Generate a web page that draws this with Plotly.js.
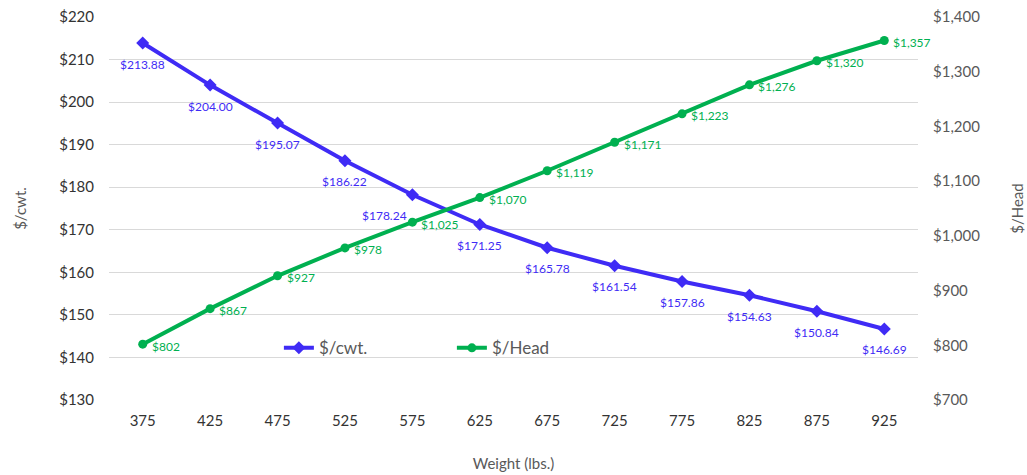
<!DOCTYPE html>
<html><head><meta charset="utf-8">
<script src="https://cdn.plot.ly/plotly-3.0.1.min.js"></script>
<style>body{margin:0;background:#fff}#c{width:1027px;height:475px}</style>
</head><body><div id="c"></div>
<script>
const weights = ['375','425','475','525','575','625','675','725','775','825','875','925'];
const cwt = [213.88,204.00,195.07,186.22,178.24,171.25,165.78,161.54,157.86,154.63,150.84,146.69];
const head = [802,867,927,978,1025,1070,1119,1171,1223,1276,1320,1357];
const leftTicks = [130,140,150,160,170,180,190,200,210,220];
const rightTicks = [700,800,900,1000,1100,1200,1300,1400];

const purple = '#3f2bf5', green = '#00b050';
const fam = 'Lato, "Open Sans", sans-serif';
const traces = [
 {x: weights, y: cwt, name: '$/cwt.', type:'scatter', mode:'lines+markers',
  line:{color:purple,width:4}, marker:{symbol:'diamond',size:10,color:purple}},
 {x: weights, y: head, name: '$/Head', type:'scatter', mode:'lines+markers', yaxis:'y2',
  line:{color:green,width:4}, marker:{symbol:'circle',size:9,color:green}}
];
// purple data labels below each point (the one at the crossing nudged left)
const cwtLabels = weights.map((w,i)=>({
  x: i, y: cwt[i], xref:'x', yref:'y', showarrow:false,
  text: '$'+cwt[i].toFixed(2), font:{color:purple,size:12,family:fam},
  yshift:-21, xshift: (w==='575' ? -28 : 0)
}));
// green data labels to the right of each point
const headLabels = weights.map((w,i)=>({
  x: i, y: head[i], xref:'x', yref:'y2', showarrow:false, xanchor:'left',
  text: '$'+head[i].toLocaleString('en-US'), font:{color:green,size:12,family:fam},
  xshift: 7, yshift:-2
}));
const layout = {
 width:1027, height:475, margin:{l:109,r:109,t:17,b:75},
 paper_bgcolor:'#fff', plot_bgcolor:'#fff',
 font:{family:fam},
 showlegend:true, annotations: cwtLabels.concat(headLabels),
 legend:{orientation:'h', x:0.21, y:0.135, xanchor:'left', yanchor:'middle',
   font:{size:17,color:'#595959',family:fam}, bgcolor:'rgba(0,0,0,0)', itemwidth:30, entrywidth:128},
 xaxis:{type:'category', range:[-0.5,11.5], showgrid:false, zeroline:false, showline:false,
   ticks:'', tickfont:{size:15,color:'#333',family:fam}, ticklabelstandoff:10,
   title:{text:'Weight (lbs.)', font:{size:15,color:'#595959',family:fam}, standoff:30}},
 yaxis:{range:[130,220], tickvals:leftTicks, ticktext:leftTicks.map(v=>'$'+v),
   showgrid:true, gridcolor:'#d9d9d9', zeroline:false, showline:false, ticks:'',
   tickfont:{size:15,color:'#333',family:fam}, ticklabelstandoff:14,
   title:{text:'$/cwt.', font:{size:15,color:'#595959',family:fam}, standoff:28}},
 yaxis2:{range:[700,1400], overlaying:'y', side:'right', tickvals:rightTicks,
   ticktext:rightTicks.map(v=>'$'+v.toLocaleString('en-US')),
   showgrid:false, zeroline:false, showline:false, ticks:'',
   tickfont:{size:15,color:'#595959',family:fam}, ticklabelstandoff:14,
   title:{text:'$/Head', font:{size:15,color:'#595959',family:fam}, standoff:33}}
};
Plotly.newPlot('c', traces, layout, {displayModeBar:false});
</script></body></html>
